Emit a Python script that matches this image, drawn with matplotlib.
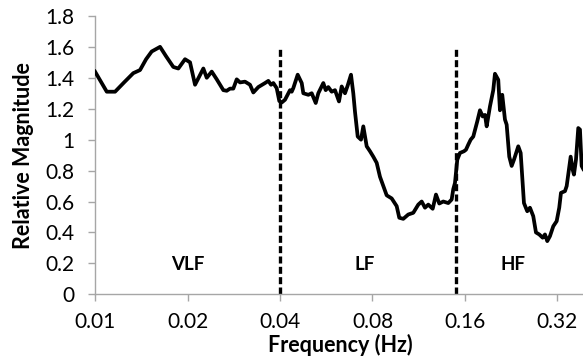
import matplotlib
matplotlib.use("Agg")
import matplotlib.pyplot as plt
from matplotlib.ticker import FixedLocator, NullLocator

plt.rcParams['font.family'] = ['Lato', 'DejaVu Sans']

# frequency (Hz) and relative magnitude
freq = [0.01000, 0.01092, 0.01162, 0.01243, 0.01332, 0.01401, 0.01466, 0.01529,
        0.01628, 0.01702, 0.01798, 0.01867, 0.01963, 0.02038, 0.02116, 0.02252,
        0.02310, 0.02398, 0.02490, 0.02616, 0.02683, 0.02750, 0.02819, 0.02892,
        0.02964, 0.03077, 0.03195, 0.03275, 0.03400, 0.03575, 0.03665, 0.03740,
        0.03805, 0.03902, 0.03979, 0.04051, 0.04153, 0.04311, 0.04367, 0.04419,
        0.04567, 0.04707, 0.04764, 0.04946, 0.05073, 0.05228, 0.05330, 0.05534,
        0.05634, 0.05745, 0.05893, 0.06040, 0.06224, 0.06351, 0.06510, 0.06643,
        0.06810, 0.06928, 0.07017, 0.07161, 0.07340, 0.07468, 0.07660, 0.07852,
        0.08048, 0.08256, 0.08462, 0.08674, 0.08898, 0.09238, 0.09591, 0.09779,
        0.10077, 0.10461, 0.10861, 0.11276, 0.11567, 0.11856, 0.12153, 0.12561,
        0.12875, 0.13197, 0.13598, 0.14118, 0.14481, 0.14656, 0.14844, 0.15103,
        0.15411, 0.15881, 0.16120, 0.16400, 0.16698, 0.17027, 0.17544, 0.17903,
        0.18269, 0.18587, 0.18825, 0.19296, 0.19778, 0.20031, 0.20533, 0.20796,
        0.21157, 0.21590, 0.21867, 0.22298, 0.22703, 0.23097, 0.23854, 0.24288,
        0.24894, 0.25518, 0.26040, 0.26692, 0.27238, 0.27918, 0.28640, 0.29140,
        0.29645, 0.30250, 0.31010, 0.31810, 0.32430, 0.32850, 0.33850, 0.34290,
        0.34880, 0.35330, 0.35860, 0.36210, 0.36760, 0.37400, 0.37880, 0.38360,
        0.38830]
magnitude = [1.44, 1.31, 1.31, 1.37, 1.43, 1.45, 1.52, 1.57,
             1.60, 1.54, 1.47, 1.46, 1.52, 1.50, 1.355, 1.46,
             1.40, 1.44, 1.39, 1.32, 1.316, 1.33, 1.33, 1.39,
             1.37, 1.375, 1.355, 1.305, 1.34, 1.366, 1.38, 1.355,
             1.366, 1.333, 1.25, 1.24, 1.258, 1.32, 1.31, 1.333,
             1.42, 1.366, 1.30, 1.29, 1.30, 1.237, 1.30, 1.366,
             1.32, 1.34, 1.31, 1.32, 1.247, 1.344, 1.30, 1.35,
             1.42, 1.30, 1.18, 1.02, 1.00, 1.086, 0.957, 0.925,
             0.89, 0.85, 0.76, 0.70, 0.64, 0.62, 0.57, 0.495,
             0.488, 0.516, 0.527, 0.58, 0.60, 0.56, 0.58, 0.553,
             0.645, 0.587, 0.60, 0.59, 0.613, 0.68, 0.72, 0.87,
             0.914, 0.925, 0.935, 0.968, 1.00, 1.02, 1.118, 1.19,
             1.15, 1.16, 1.086, 1.215, 1.32, 1.426, 1.387, 1.19,
             1.29, 1.13, 1.097, 0.89, 0.83, 0.87, 0.957, 0.914,
             0.59, 0.537, 0.56, 0.505, 0.40, 0.387, 0.366, 0.387,
             0.344, 0.376, 0.44, 0.473, 0.56, 0.656, 0.667, 0.70,
             0.806, 0.89, 0.806, 0.774, 0.87, 1.075, 1.065, 0.83,
             0.81]

band_edges = [0.04, 0.15]
band_names = ['VLF', 'LF', 'HF']
band_label_x = [0.02, 0.0757, 0.23]
band_label_y = 0.19

xticks = [0.01, 0.02, 0.04, 0.08, 0.16, 0.32]
xtick_labels = ['0.01', '0.02', '0.04', '0.08', '0.16', '0.32']
yticks = [0, 0.2, 0.4, 0.6, 0.8, 1, 1.2, 1.4, 1.6, 1.8]
ytick_labels = ['0', '0.2', '0.4', '0.6', '0.8', '1', '1.2', '1.4', '1.6', '1.8']

fig = plt.figure(figsize=(5.83, 3.62), dpi=100)
ax = fig.add_axes([0.163, 0.187, 0.837, 0.769])

ax.plot(freq, magnitude, color='black', linewidth=2.7, solid_joinstyle='round', zorder=3)

for edge in band_edges:
    ax.plot([edge, edge], [0, 1.6], color='black', linewidth=2.4,
            linestyle=(0, (2.1, 1.0)), zorder=2)

for name, bx in zip(band_names, band_label_x):
    ax.text(bx, band_label_y, name, ha='center', va='center',
            fontsize=13.5, fontweight='bold')

ax.set_xscale('log', base=2)
ax.set_xlim(0.01, 0.3875)
ax.set_ylim(0, 1.8)
ax.xaxis.set_major_locator(FixedLocator(xticks))
ax.xaxis.set_minor_locator(NullLocator())
ax.set_xticklabels(xtick_labels)
ax.set_yticks(yticks)
ax.set_yticklabels(ytick_labels)

for side in ['top', 'right']:
    ax.spines[side].set_visible(False)
for side in ['left', 'bottom']:
    ax.spines[side].set_color('#a6a6a6')
    ax.spines[side].set_linewidth(1.0)
ax.tick_params(axis='both', colors='#a6a6a6', length=5, width=1.0,
               labelcolor='black', labelsize=15, direction='out')
ax.tick_params(axis='x', pad=8)
ax.tick_params(axis='y', pad=10)

ax.set_xlabel('Frequency (Hz)', fontsize=15.5, fontweight='bold')
ax.set_ylabel('Relative Magnitude', fontsize=15.5, fontweight='bold')
ax.xaxis.set_label_coords(0.502, -0.143)
ax.yaxis.set_label_coords(-0.125, 0.5)

fig.savefig('out.png', dpi=100)
